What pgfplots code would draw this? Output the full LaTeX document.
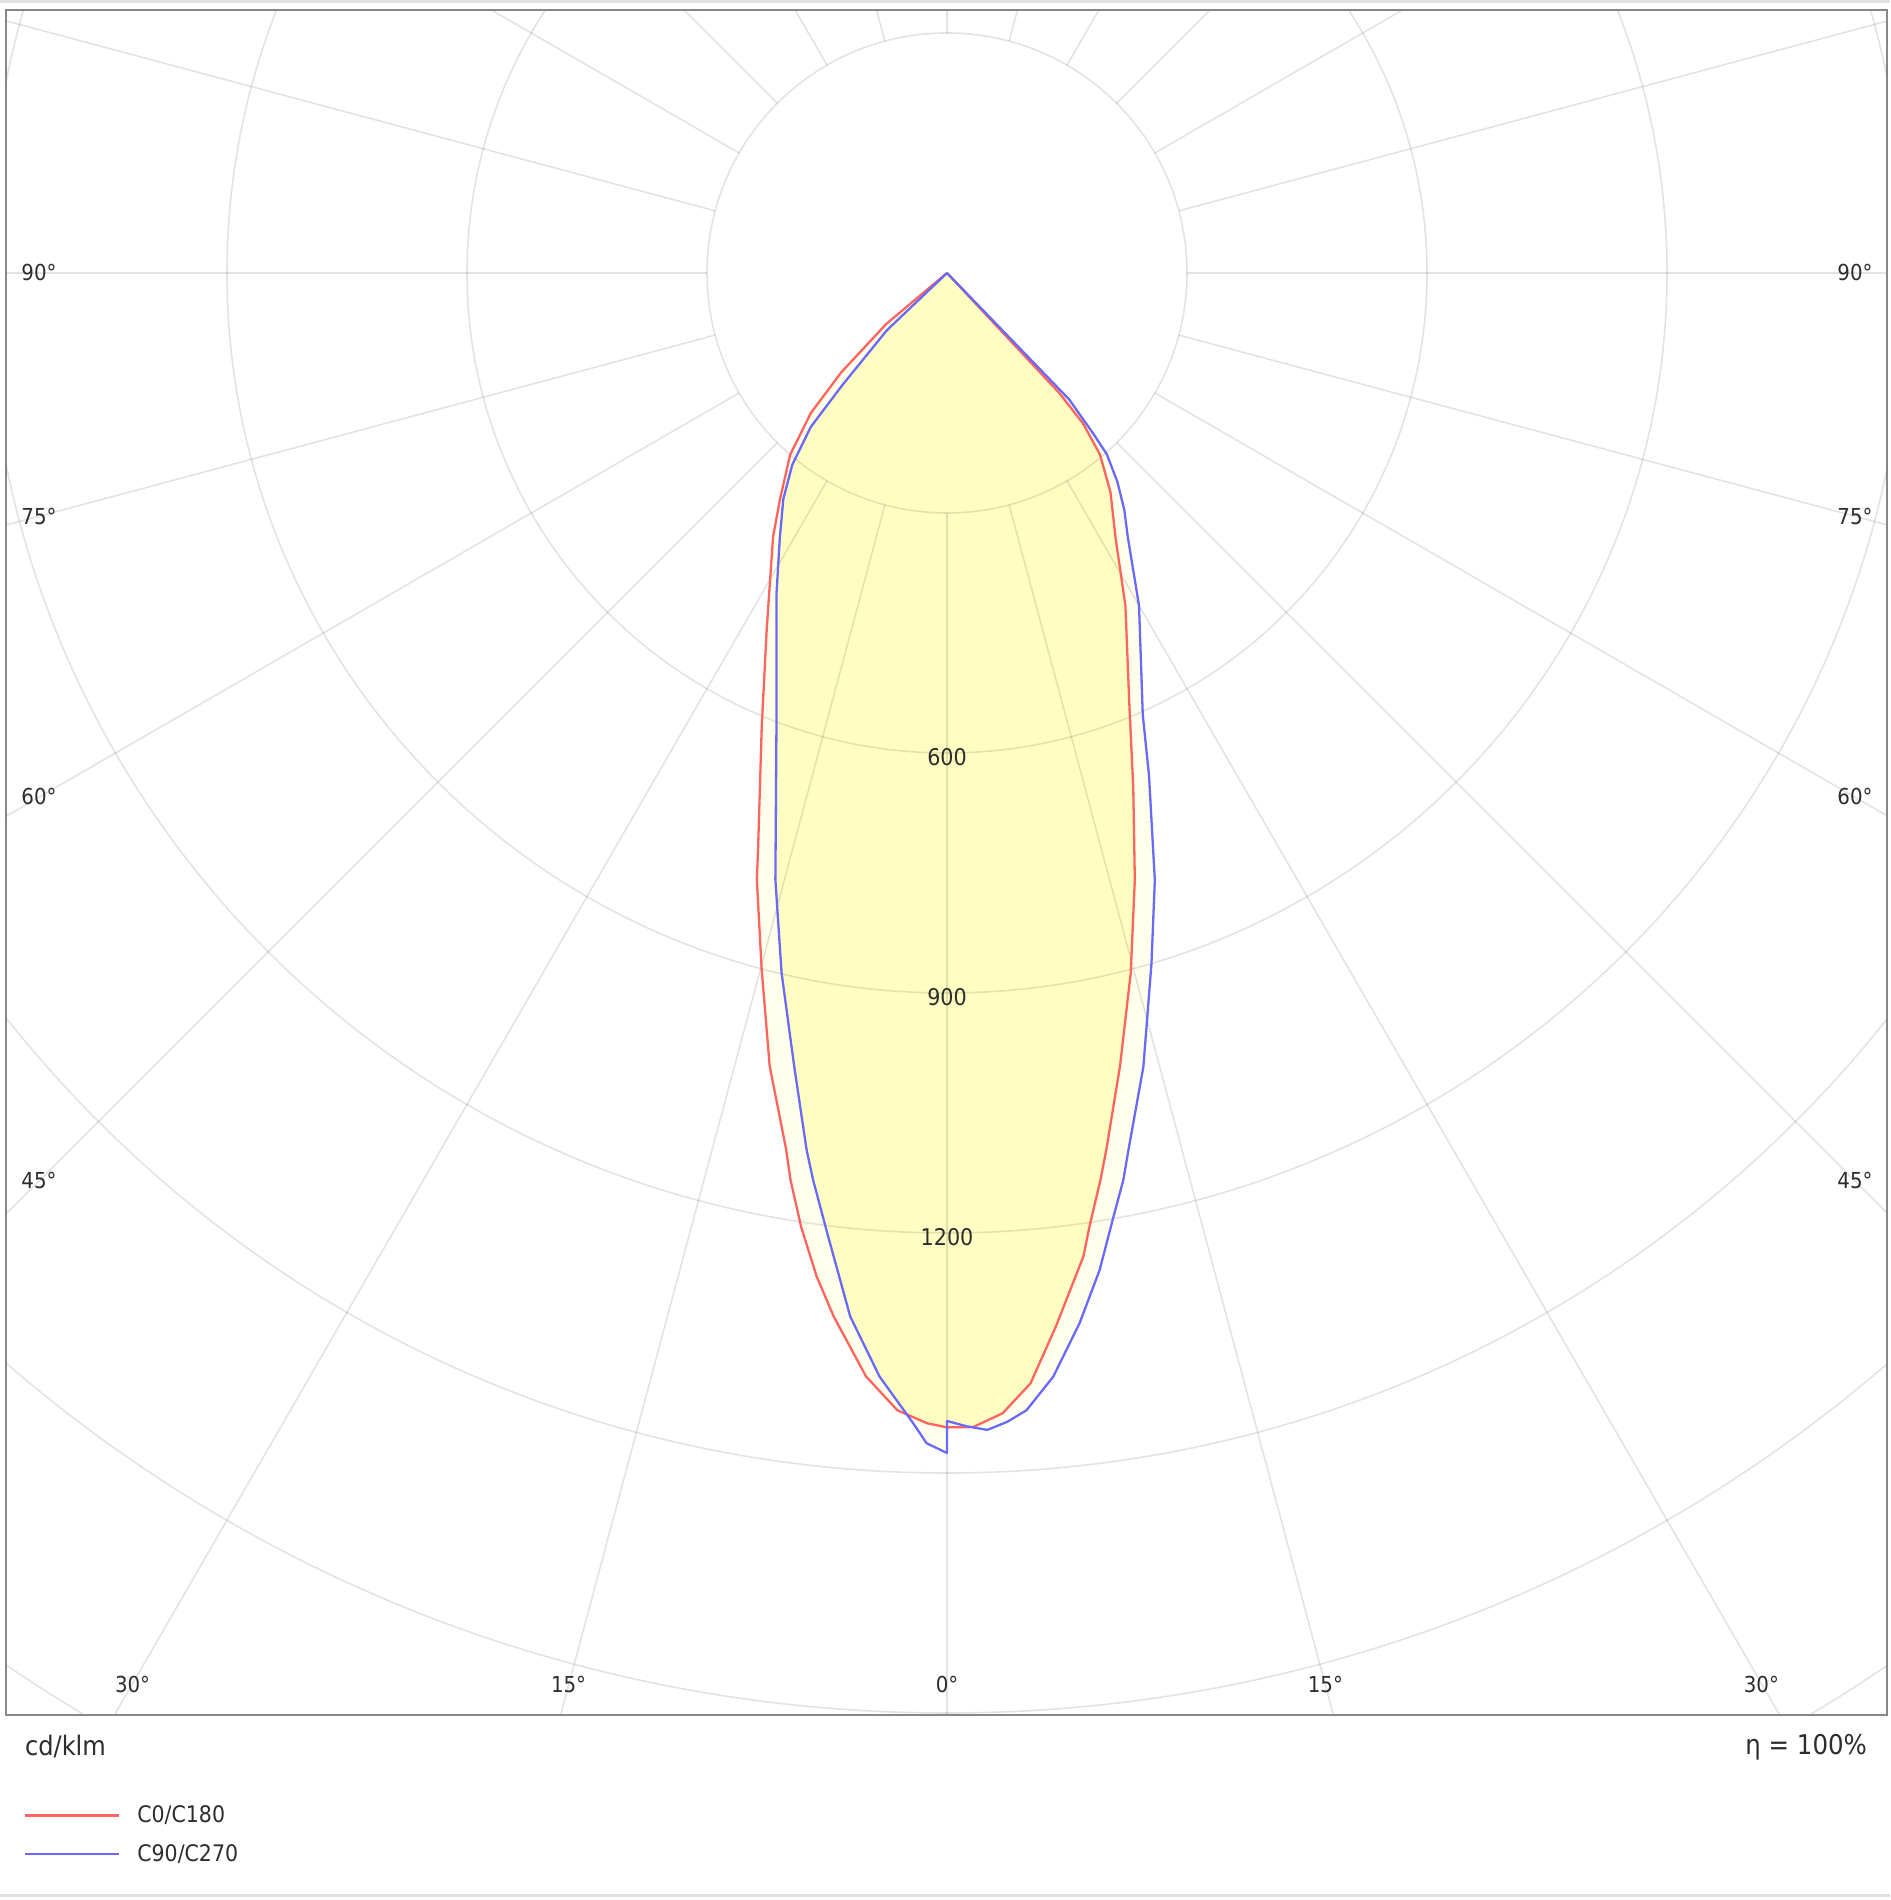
\documentclass[border=0pt]{standalone}
\usepackage{fontspec}
\setmainfont{DejaVu Sans Condensed}
\usepackage{pgfplots}
\usepackage{pgfplotstable}
\pgfplotsset{compat=1.18}
\usepgfplotslibrary{polar}

\definecolor{redc}{RGB}{255,100,95}
\definecolor{bluec}{RGB}{105,105,250}
\definecolor{fillY}{RGB}{255,254,194}
\definecolor{fillP}{RGB}{255,255,236}
\definecolor{framec}{RGB}{135,135,135}
\definecolor{txt}{RGB}{45,45,45}

% C0/C180 : g = gamma (negative = left half), I = cd/klm
\pgfplotstableread{
g I
-90 0
-50.0 99
-46.8 181
-44.2 244
-40.8 300
-36.4 352
-33.4 395
-26.8 500
-22.2 613
-18.2 756
-17.4 795
-14.9 901
-12.6 1016
-10.4 1114
-9.8 1150
-8.7 1206
-7.4 1265
-6.2 1312
-4.2 1383
-2.5 1423
-1.0 1438
0 1443
1.3 1443
2.8 1427
4.3 1392
5.9 1324
7.9 1241
8.5 1205
9.6 1150
10.3 1114
12.3 1015
14.7 905
17.2 794
19.9 684
23.0 583
28.2 472
32.5 392
36.7 342
40.1 297
42.1 254
43.1 205
90 0
}\redtab

% C90/C270
\pgfplotstableread{
g I
-90 0
-46.4 104
-43.0 193
-41.5 257
-38.9 308
-35.9 349
-32.3 391
-28.0 454
-20.6 606
-16.6 750
-15.8 788
-13.3 899
-10.9 1010
-9.1 1110
-8.4 1146
-7.1 1210
-5.3 1310
-3.5 1382
-1.7 1438
-1.0 1463
0 1475
0 1435
1.0 1442
2.0 1447
3.0 1438
4.0 1425
5.5 1386
7.2 1323
8.7 1261
10.0 1198
11.0 1155
11.7 1119
13.9 1022
16.5 900
18.9 802
21.9 677
23.9 604
30.0 480
34.4 400
36.8 370
39.2 337
41.4 302
42.3 272
44.0 220
90 0
}\bluetab

\pgfplotstablevertcat{\bothtab}{\redtab}
\pgfplotstablevertcat{\bothtab}{\bluetab}

\begin{document}
\begin{tikzpicture}
\useasboundingbox (0,0) rectangle (945pt,950pt);
\fill[white] (0,0) rectangle (945pt,950pt);
\draw[black!12, line width=1.5pt] (0,949pt) -- (945pt,949pt);
\draw[black!12, line width=1.5pt] (0,2pt) -- (945pt,2pt);
\begin{axis}[
  at={(3pt,92.5pt)}, anchor=south west,
  x=0.4pt, y=0.4pt,
  xmin=-1176.25, xmax=1175, ymin=-1802.5, ymax=328.75,
  xtick=\empty, ytick=\empty,
  axis line style={draw=framec, line width=1.3pt},
  axis on top,
  clip=true,
  legend cell align=left,
  legend image code/.code={\draw[#1] (0pt,0pt) -- (47pt,0pt);},
  legend style={at={(axis description cs:0.0096,-0.0703)}, anchor=west,
    draw=none, fill=none, inner sep=0pt, outer sep=0pt,
    row sep=9.5pt, column sep=8.5pt,
    nodes={inner sep=0pt, font=\fontsize{11.4}{13}\selectfont, text=txt}},
]
% fills: intersection strong yellow, single coverage pale
\addplot[forget plot, draw=none, fill=fillY, data cs=polar] table[x expr=\thisrow{g}-90, y=I] {\redtab};
\addplot[forget plot, draw=none, fill=fillY, data cs=polar] table[x expr=\thisrow{g}-90, y=I] {\bluetab};
\addplot[forget plot, draw=none, fill=fillP, even odd rule, data cs=polar] table[x expr=\thisrow{g}-90, y=I] {\bothtab};
% grid
\pgfplotsinvokeforeach{300,600,900,1200,1500,1800,2100}{
  \draw[black, draw opacity=0.11, line width=0.8pt] (axis cs:0,0) circle[radius=#1];
}
\pgfplotsinvokeforeach{0,15,...,345}{
  \draw[black, draw opacity=0.11, line width=0.8pt] (axis cs:{300*cos(#1)},{300*sin(#1)}) -- (axis cs:{2700*cos(#1)},{2700*sin(#1)});
}
% curves
\addplot[redc, line width=1.15pt, line join=round, data cs=polar] table[x expr=\thisrow{g}-90, y=I] {\redtab};
\addlegendentry{C0/C180}
\addplot[bluec, line width=1.15pt, line join=round, data cs=polar] table[x expr=\thisrow{g}-90, y=I] {\bluetab};
\addlegendentry{C90/C270}
% labels
\begin{scope}[every node/.style={text=txt, font=\fontsize{11.5}{13}\selectfont}]
\node at (axis cs:0,-605) {600};
\node at (axis cs:0,-905) {900};
\node at (axis cs:0,-1205) {1200};
\end{scope}
\begin{scope}[every node/.style={text=txt, font=\fontsize{11}{13}\selectfont}]
\node at (axis cs:-1135,0) {90°};
\node at (axis cs:1135,0) {90°};
\node at (axis cs:-1135,-304) {75°};
\node at (axis cs:1135,-304) {75°};
\node at (axis cs:-1135,-655) {60°};
\node at (axis cs:1135,-655) {60°};
\node at (axis cs:-1135,-1135) {45°};
\node at (axis cs:1135,-1135) {45°};
\node at (axis cs:-1018,-1764) {30°};
\node at (axis cs:-473,-1764) {15°};
\node at (axis cs:0,-1764) {0°};
\node at (axis cs:473,-1764) {15°};
\node at (axis cs:1018,-1764) {30°};
\end{scope}
\end{axis}
\node[anchor=west, text=txt, font=\fontsize{13.4}{15}\selectfont] at (9pt,76.5pt) {cd/klm};
\node[anchor=east, text=txt, font=\fontsize{13.6}{15}\selectfont] at (937pt,76.5pt) {η = 100\%};
\end{tikzpicture}
\end{document}
